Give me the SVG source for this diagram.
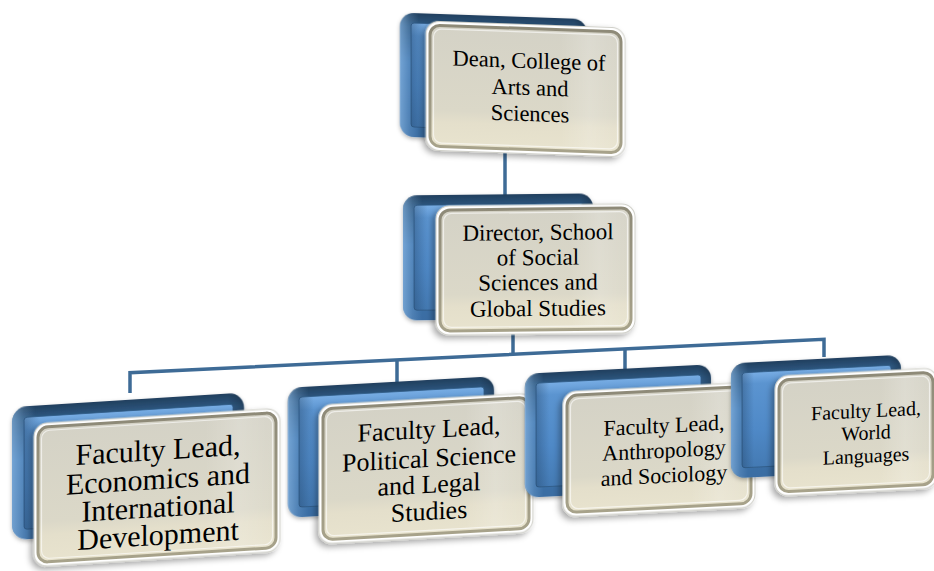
<svg xmlns="http://www.w3.org/2000/svg" width="934" height="571" viewBox="0 0 934 571">
<defs>
<linearGradient id="gOuter" x1="0" y1="0" x2="0" y2="1">
<stop offset="0" stop-color="#213f5e"/>
<stop offset="0.1" stop-color="#2f5a84"/>
<stop offset="0.4" stop-color="#4378b0"/>
<stop offset="1" stop-color="#3a6da3"/>
</linearGradient>
<linearGradient id="gOuterH" x1="0" y1="0" x2="1" y2="0">
<stop offset="0" stop-color="#9cc8f2" stop-opacity="0.55"/>
<stop offset="0.05" stop-color="#9cc8f2" stop-opacity="0.2"/>
<stop offset="0.1" stop-color="#9cc8f2" stop-opacity="0"/>
<stop offset="0.93" stop-color="#000" stop-opacity="0"/>
<stop offset="1" stop-color="#000" stop-opacity="0.25"/>
</linearGradient>
<linearGradient id="gInner" x1="0" y1="0" x2="0" y2="1">
<stop offset="0" stop-color="#78ade4"/>
<stop offset="0.12" stop-color="#5b94d0"/>
<stop offset="0.6" stop-color="#4f89c7"/>
<stop offset="1" stop-color="#447ab3"/>
</linearGradient>
<linearGradient id="gInnerH" x1="0" y1="0" x2="1" y2="0">
<stop offset="0" stop-color="#1c3a5a" stop-opacity="0.35"/>
<stop offset="0.08" stop-color="#1c3a5a" stop-opacity="0"/>
<stop offset="1" stop-color="#1c3a5a" stop-opacity="0"/>
</linearGradient>
<linearGradient id="gFront" x1="0" y1="0" x2="0" y2="1">
<stop offset="0" stop-color="#d4d2c6"/>
<stop offset="0.7" stop-color="#dbd8c8"/>
<stop offset="0.8" stop-color="#e4dfcb"/>
<stop offset="1" stop-color="#e8e3ce"/>
</linearGradient>
<linearGradient id="gFrontStroke" x1="0" y1="0" x2="0" y2="1">
<stop offset="0" stop-color="#8e8a78"/>
<stop offset="1" stop-color="#a7a28a"/>
</linearGradient>
<linearGradient id="gGloss" x1="0" y1="0" x2="1" y2="0">
<stop offset="0" stop-color="#fff" stop-opacity="0"/>
<stop offset="0.5" stop-color="#fff" stop-opacity="0.18"/>
<stop offset="1" stop-color="#fff" stop-opacity="0.05"/>
</linearGradient>
<filter id="sh" x="-20%" y="-20%" width="140%" height="140%">
<feDropShadow dx="-3" dy="3" stdDeviation="3" flood-color="#000" flood-opacity="0.35"/>
</filter>
<filter id="shb" x="-20%" y="-20%" width="140%" height="140%">
<feDropShadow dx="0" dy="2" stdDeviation="2" flood-color="#000" flood-opacity="0.3"/>
</filter>
</defs>
<style>
.bo{fill:url(#gOuter);filter:url(#shb)}
.bh{fill:url(#gOuterH)}
.bi{fill:url(#gInner);stroke:#2f5a85;stroke-width:0.8}
.bs{fill:url(#gInnerH)}
.halo{fill:#fff;stroke:#cfcfc8;stroke-width:1;filter:url(#sh)}
.fr{fill:url(#gFront);stroke:url(#gFrontStroke);stroke-width:3}
.hl{fill:none;stroke:#fff;stroke-opacity:0.6;stroke-width:1.2}
.gl{fill:url(#gGloss)}
.t{font-family:"Liberation Serif","Times New Roman",serif;fill:#000;text-anchor:middle}
.conn{fill:none;stroke:#3e6b96;stroke-width:3.5;stroke-linejoin:miter}
</style>
<rect width="934" height="571" fill="#fff"/>
<g id="connectors" class="conn">
<path d="M505 145 V196"/>
<path d="M513 326 V354.3"/>
<path d="M130 393 V372.7 L824 339.3 V357"/>
<path d="M397 359.9 V382"/>
<path d="M625 348.9 V369"/>
</g>
<g id="dean" transform="translate(526 88) skewY(2) translate(-526 -88)">
<rect class="bo" x="400" y="17" width="187" height="124" rx="14"/>
<rect class="bh" x="400" y="17" width="187" height="124" rx="14"/>
<rect class="bi" x="411" y="27" width="166" height="104" rx="3"/>
<rect class="bs" x="411" y="27" width="166" height="104" rx="3"/>
<rect class="halo" x="426" y="24.5" width="199" height="129" rx="13"/>
<rect class="fr" x="430" y="28.5" width="191" height="121" rx="10"/>
<rect class="hl" x="433.5" y="32" width="184" height="114" rx="8"/>
<rect class="gl" x="560" y="31" width="58" height="115"/>
<text class="t" font-size="22.5" x="529" y="68">Dean, College of</text>
<text class="t" font-size="22.5" x="530" y="95">Arts and</text>
<text class="t" font-size="22.5" x="530" y="121">Sciences</text>
</g>
<g id="director" transform="translate(536 270) skewY(-0.6) translate(-536 -270)">
<rect class="bo" x="403" y="194" width="190" height="125" rx="14"/>
<rect class="bh" x="403" y="194" width="190" height="125" rx="14"/>
<rect class="bi" x="414" y="204" width="169" height="105" rx="3"/>
<rect class="bs" x="414" y="204" width="169" height="105" rx="3"/>
<rect class="halo" x="436" y="205" width="199" height="129" rx="13"/>
<rect class="fr" x="440" y="209" width="191" height="121" rx="10"/>
<rect class="hl" x="443.5" y="212.5" width="184" height="114" rx="8"/>
<rect class="gl" x="570" y="212" width="58" height="115"/>
<text class="t" font-size="23" x="538" y="240">Director, School</text>
<text class="t" font-size="23" x="538" y="265">of Social</text>
<text class="t" font-size="23" x="538" y="290">Sciences and</text>
<text class="t" font-size="23" x="538" y="316">Global Studies</text>
</g>
<g id="economics" transform="translate(157 488) skewY(-3.6) translate(-157 -488)">
<rect class="bo" x="12" y="398" width="232" height="133" rx="15"/>
<rect class="bh" x="12" y="398" width="232" height="133" rx="15"/>
<rect class="bi" x="24" y="409" width="209" height="112" rx="3"/>
<rect class="bs" x="24" y="409" width="209" height="112" rx="3"/>
<rect class="halo" x="34" y="416" width="246" height="143" rx="13"/>
<rect class="fr" x="38" y="420" width="238" height="135" rx="10"/>
<rect class="hl" x="41.5" y="423.5" width="231" height="128" rx="8"/>
<rect class="gl" x="205" y="423" width="68" height="129"/>
<text class="t" font-size="30" x="158" y="460">Faculty Lead,</text>
<text class="t" font-size="30" x="158" y="489">Economics and</text>
<text class="t" font-size="30" x="158" y="517">International</text>
<text class="t" font-size="30" x="158" y="545">Development</text>
</g>
<g id="political" transform="translate(427 468) skewY(-3.2) translate(-427 -468)">
<rect class="bo" x="288" y="380" width="206" height="130" rx="14"/>
<rect class="bh" x="288" y="380" width="206" height="130" rx="14"/>
<rect class="bi" x="299" y="390" width="185" height="110" rx="3"/>
<rect class="bs" x="299" y="390" width="185" height="110" rx="3"/>
<rect class="halo" x="319" y="399" width="214" height="139" rx="13"/>
<rect class="fr" x="323" y="403" width="206" height="131" rx="10"/>
<rect class="hl" x="326.5" y="406.5" width="199" height="124" rx="8"/>
<rect class="gl" x="465" y="406" width="60" height="125"/>
<text class="t" font-size="26" x="429" y="438">Faculty Lead,</text>
<text class="t" font-size="26" x="429" y="467">Political Science</text>
<text class="t" font-size="26" x="429" y="493">and Legal</text>
<text class="t" font-size="26" x="429" y="520">Studies</text>
</g>
<g id="anthropology" transform="translate(658 450) skewY(-2.9) translate(-658 -450)">
<rect class="bo" x="525" y="367" width="186" height="124" rx="14"/>
<rect class="bh" x="525" y="367" width="186" height="124" rx="14"/>
<rect class="bi" x="536" y="377" width="165" height="104" rx="3"/>
<rect class="bs" x="536" y="377" width="165" height="104" rx="3"/>
<rect class="halo" x="563" y="387" width="192" height="125" rx="13"/>
<rect class="fr" x="567" y="391" width="184" height="117" rx="10"/>
<rect class="hl" x="570.5" y="394.5" width="177" height="110" rx="8"/>
<rect class="gl" x="690" y="394" width="58" height="111"/>
<text class="t" font-size="22" x="664" y="433">Faculty Lead,</text>
<text class="t" font-size="22" x="664" y="458">Anthropology</text>
<text class="t" font-size="22" x="664" y="483">and Sociology</text>
</g>
<g id="world" transform="translate(857 432) skewY(-2.9) translate(-857 -432)">
<rect class="bo" x="731" y="357" width="170" height="115" rx="14"/>
<rect class="bh" x="731" y="357" width="170" height="115" rx="14"/>
<rect class="bi" x="742" y="367" width="149" height="95" rx="3"/>
<rect class="bs" x="742" y="367" width="149" height="95" rx="3"/>
<rect class="halo" x="775" y="372" width="162" height="120" rx="13"/>
<rect class="fr" x="779" y="376" width="154" height="112" rx="10"/>
<rect class="hl" x="782.5" y="379.5" width="147" height="105" rx="8"/>
<rect class="gl" x="880" y="379" width="50" height="106"/>
<text class="t" font-size="20" x="866" y="418">Faculty Lead,</text>
<text class="t" font-size="20" x="866" y="440">World</text>
<text class="t" font-size="20" x="866" y="463">Languages</text>
</g>
</svg>
